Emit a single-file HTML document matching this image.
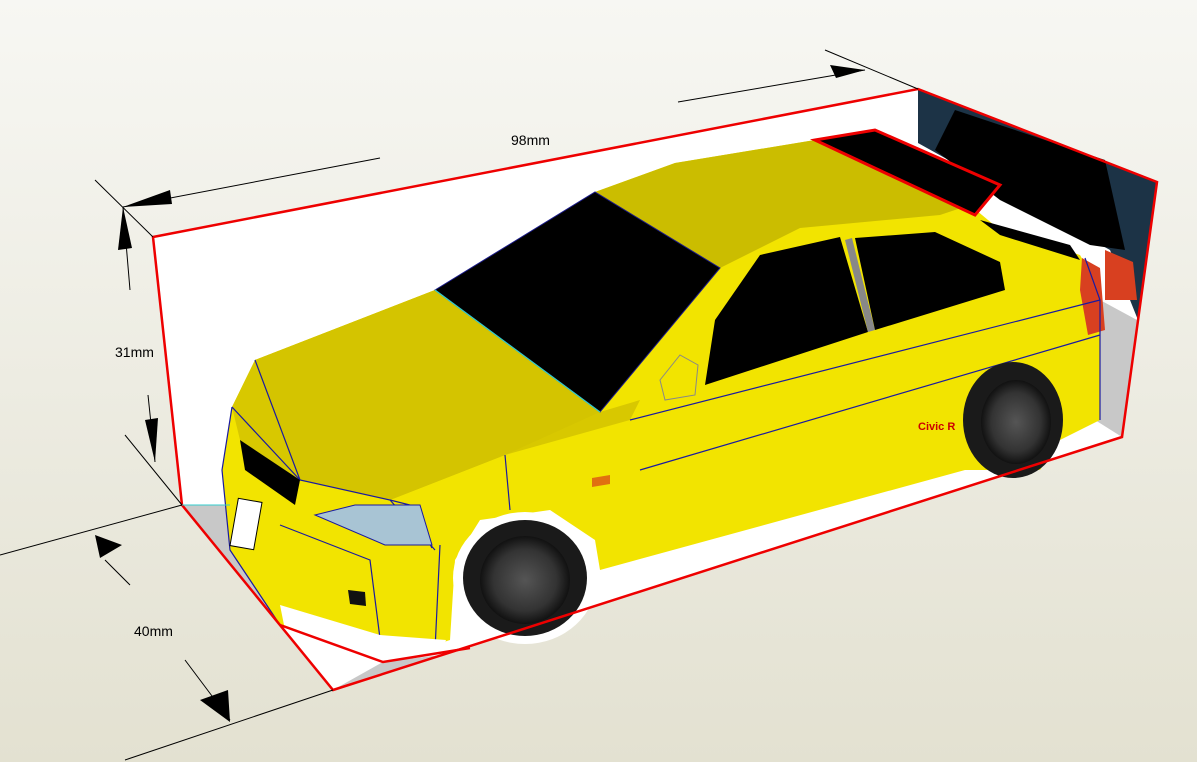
<!DOCTYPE html>
<html><head><meta charset="utf-8"><style>
html,body{margin:0;padding:0;width:1197px;height:762px;overflow:hidden}
svg{display:block}
text{font-family:"Liberation Sans",sans-serif;font-size:14px;fill:#000}
</style></head><body>
<svg width="1197" height="762" viewBox="0 0 1197 762" xmlns="http://www.w3.org/2000/svg">
<defs>
<linearGradient id="bg" x1="0" y1="0" x2="0" y2="1">
<stop offset="0" stop-color="#f7f7f3"/><stop offset="1" stop-color="#e3e1d1"/></linearGradient>
<radialGradient id="wh" cx="0.5" cy="0.5" r="0.5">
<stop offset="0" stop-color="#555"/><stop offset="0.7" stop-color="#333"/><stop offset="1" stop-color="#111"/></radialGradient>
</defs>
<rect width="1197" height="762" fill="url(#bg)"/>
<!-- box -->
<polygon points="153,237 918,89 1157,182 1122,437 333,690 182,505" fill="#fff"/>
<polygon points="918,89 1157,182 1138,320 1110,250 918,143" fill="#1c3346"/>
<polygon points="955,110 1105,160 1125,250 1090,245 1000,200 935,150" fill="#000"/>
<polygon points="182,505 230,505 280,625 333,690 383,662 440,655 333,690" fill="#c8c8c8"/>
<polygon points="1095,420 1100,300 1137,320 1122,437" fill="#c8c8c8"/>
<!-- car body -->
<polygon points="232,407 255,360 435,290 595,192 675,163 815,140 875,130 970,205 1000,230 1080,255 1100,290 1100,420 1060,440 1040,470 965,470 600,570 595,540 550,510 480,520 455,560 450,640 383,662 280,625 230,550 222,470" fill="#f2e400"/>
<polygon points="232,407 255,360 435,290 600,412 640,400 630,420 505,455 390,500 300,480 240,440" fill="#d8c800"/>
<polygon points="255,360 435,290 600,412 505,455 390,500 300,480" fill="#d4c400"/>
<polygon points="595,192 675,163 815,140 875,130 970,205 940,215 800,228 720,268" fill="#cbbd00"/>
<polygon points="815,140 875,130 1000,185 975,215" fill="#000" stroke="#e00" stroke-width="3"/>
<!-- windows -->
<polygon points="435,290 595,192 720,268 600,412" fill="#000" stroke="#1a1a8a"/>
<polygon points="705,385 715,320 760,255 840,237 868,332" fill="#000"/>
<polygon points="845,240 868,332 875,330 852,238" fill="#888"/>
<polygon points="855,238 935,232 1000,262 1005,290 875,330" fill="#000"/>
<polygon points="980,220 1070,245 1080,260 1000,235" fill="#000"/>
<!-- rear light -->
<polygon points="1082,258 1100,268 1105,330 1088,335 1080,290" fill="#d84020"/>
<polygon points="1105,250 1133,262 1137,300 1105,300" fill="#d84020"/>
<!-- lines -->
<g fill="none" stroke="#1a1aa0" stroke-width="1.2">
<path d="M255,360 L300,480 L390,500 L435,550 M390,500 L410,505 L432,548 M300,480 L232,407 M505,455 L510,510 M232,407 L222,470 L230,550 L280,625 M280,525 L370,560 L383,662 M440,545 L435,650 M630,420 L1100,300 M640,470 L1100,335 M1100,300 L1100,420 M1085,258 L1100,300"/>
</g>
<path d="M435,290 L600,412" stroke="#3cc" stroke-width="1.2"/>
<!-- grille, headlight -->
<polygon points="240,440 300,480 295,505 245,470" fill="#000"/>
<polygon points="315,515 355,505 420,505 432,545 385,545" fill="#a8c4d4" stroke="#1a1aa0"/>
<rect x="234" y="500" width="24" height="48" fill="#fff" stroke="#000" transform="rotate(10 246 524)"/>
<polygon points="348,590 365,592 366,606 350,604" fill="#111"/>
<polygon points="284,625 383,662 440,655 446,640 380,635 280,605" fill="#fff"/>
<!-- mirror -->
<polygon points="660,380 680,355 698,365 695,395 665,400" fill="#f2e400" stroke="#888"/>
<polygon points="592,478 610,475 610,484 592,487" fill="#e07010"/>
<text x="918" y="430" style="font-size:11px;font-weight:bold;fill:#c00">Civic R</text>
<!-- wheels -->
<ellipse cx="525" cy="578" rx="72" ry="66" fill="#fff"/>
<ellipse cx="525" cy="578" rx="62" ry="58" fill="#1a1a1a"/>
<ellipse cx="525" cy="580" rx="45" ry="44" fill="url(#wh)"/>
<ellipse cx="1013" cy="420" rx="50" ry="58" fill="#1a1a1a"/>
<ellipse cx="1016" cy="422" rx="35" ry="42" fill="url(#wh)"/>
<!-- box red edges -->
<g fill="none" stroke="#e00" stroke-width="2.5">
<path d="M153,237 L918,89 L1157,182 L1122,437 L333,690 L182,505 Z"/>
<path d="M280,625 L383,662 L470,648"/>
</g>
<path d="M182,505 L230,505" stroke="#3cc"/>
<!-- dimensions -->
<g stroke="#000" stroke-width="1" fill="none">
<path d="M95,180 L153,237 M825,50 L918,89 M123,207 L380,158 M678,102 L865,70"/>
<path d="M123,207 L130,290 M148,395 L155,462 M125,435 L182,505"/>
<path d="M0,555 L182,505 M125,760 L333,690 M105,560 L130,585 M185,660 L230,720"/>
</g>
<g fill="#000">
<polygon points="123,207 170,190 172,204"/>
<polygon points="865,70 830,65 836,78"/>
<polygon points="123,207 118,250 132,248"/>
<polygon points="155,462 145,420 158,418"/>
<polygon points="95,535 122,545 100,558"/>
<polygon points="230,722 200,700 228,690"/>
</g>
<text x="511" y="145">98mm</text>
<text x="115" y="357">31mm</text>
<text x="134" y="636">40mm</text>
</svg>
</body></html>
